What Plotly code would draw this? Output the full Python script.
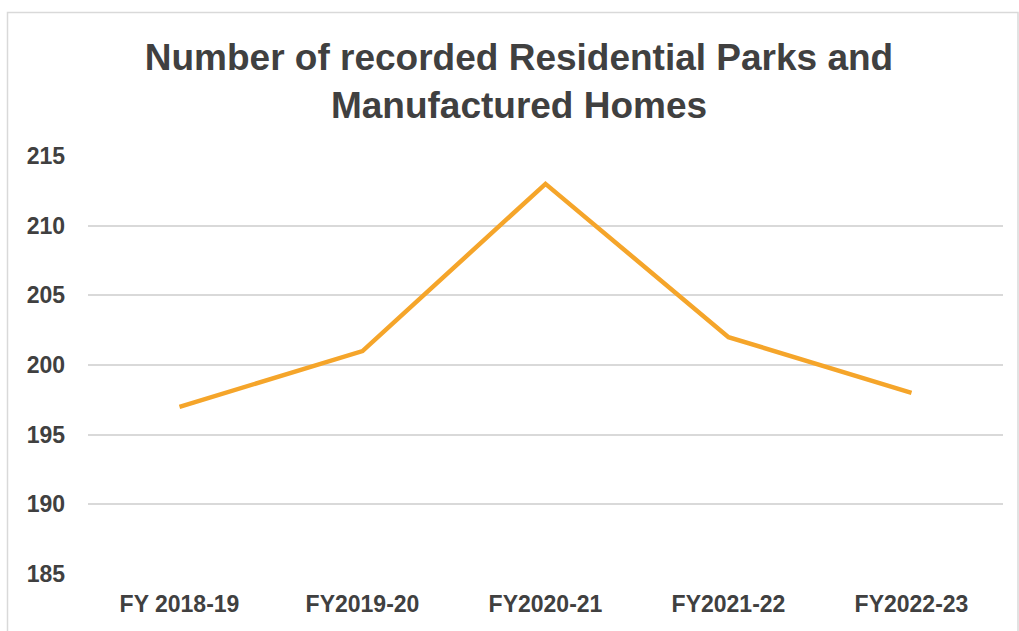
import plotly.graph_objects as go

categories = ["FY 2018-19", "FY2019-20", "FY2020-21", "FY2021-22", "FY2022-23"]
values = [197, 201, 213, 202, 198]
y_ticks = [185, 190, 195, 200, 205, 210, 215]

W, H = 1019, 631
L, R, T, B = 88, 16, 156, 57
pw, ph = W - L - R, H - T - B

def px_to_paper_x(px):
    return (px - L) / pw

def px_to_paper_y(py):
    return (H - B - py) / ph

fig = go.Figure()
fig.add_trace(go.Scatter(
    x=categories, y=values, mode="lines",
    line=dict(color="#F5A52A", width=4.5),
    hoverinfo="x+y", showlegend=False,
))

fig.add_shape(type="rect", xref="paper", yref="paper",
              x0=px_to_paper_x(7.5), x1=px_to_paper_x(1018),
              y0=px_to_paper_y(640), y1=px_to_paper_y(12.5),
              line=dict(color="#D9D9D9", width=1.5), fillcolor="rgba(0,0,0,0)",
              layer="below")

fig.update_layout(
    width=W, height=H,
    margin=dict(l=L, r=R, t=T, b=B),
    paper_bgcolor="white", plot_bgcolor="white",
    font=dict(family="Liberation Sans, Arial, sans-serif", color="#404040"),
    title=dict(
        text="<b>Number of recorded Residential Parks and<br>Manufactured Homes</b>",
        x=px_to_paper_x(519), xref="paper", xanchor="center",
        y=1 - 70 / H, yanchor="top",
        font=dict(size=37, color="#404040"),
    ),
    xaxis=dict(
        type="category", showgrid=False, zeroline=False, showline=False,
        ticks="", tickfont=dict(size=23, color="#404040", weight="bold"),
        range=[-0.5, len(categories) - 0.5],
        ticklabelstandoff=14,
    ),
    yaxis=dict(
        range=[185, 215], tickvals=y_ticks, showgrid=True, gridcolor="#D9D9D9",
        gridwidth=1.5, zeroline=False, showline=False, ticks="",
        tickfont=dict(size=23, color="#404040", weight="bold"),
        ticklabelstandoff=22,
    ),
)

fig.write_html("out.html")
